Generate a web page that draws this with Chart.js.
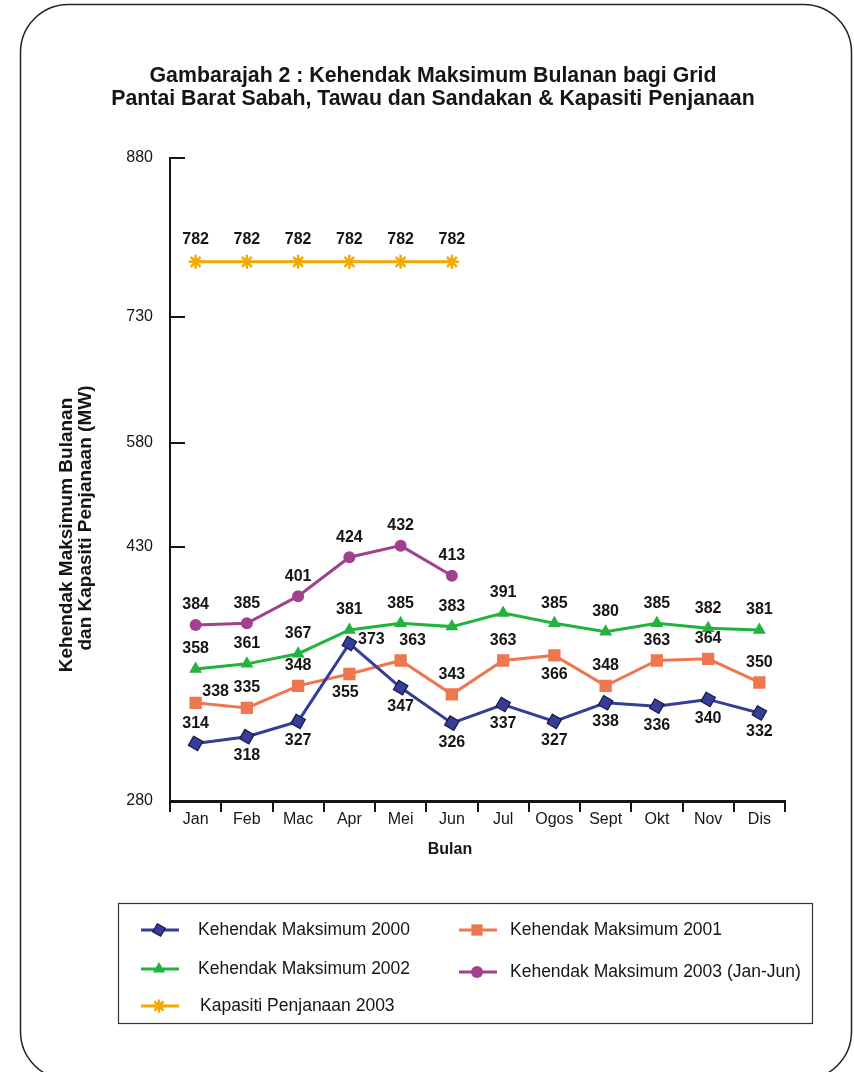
<!DOCTYPE html>
<html>
<head>
<meta charset="utf-8">
<title>Kehendak Maksimum Bulanan</title>
<script src="https://cdn.jsdelivr.net/npm/chart.js@4/dist/chart.umd.min.js"></script>
<style>
  html, body { margin: 0; padding: 0; background: #ffffff; }
  canvas { display: block; }
</style>
</head>
<body>
<canvas id="chart" width="854" height="1072"></canvas>
<script>
// ---- data ----
const months = ['Jan', 'Feb', 'Mac', 'Apr', 'Mei', 'Jun', 'Jul', 'Ogos', 'Sept', 'Okt', 'Nov', 'Dis'];
const demand2000 = [314, 318, 327, 373, 347, 326, 337, 327, 338, 336, 340, 332];
const demand2001 = [338, 335, 348, 355, 363, 343, 363, 366, 348, 363, 364, 350];
const demand2002 = [358, 361, 367, 381, 385, 383, 391, 385, 380, 385, 382, 381];
const demand2003 = [384, 385, 401, 424, 432, 413];
const capacity2003 = [782, 782, 782, 782, 782, 782];
const yTickValues = [280, 430, 580, 730, 880];

const seriesNames = [
  'Kehendak Maksimum 2000',
  'Kehendak Maksimum 2001',
  'Kehendak Maksimum 2002',
  'Kehendak Maksimum 2003 (Jan-Jun)',
  'Kapasiti Penjanaan 2003'
];
const titleLines = [
  'Gambarajah 2 : Kehendak Maksimum Bulanan bagi Grid',
  'Pantai Barat Sabah, Tawau dan Sandakan & Kapasiti Penjanaan'
];
const yTitleLines = ['Kehendak Maksimum Bulanan', 'dan Kapasiti Penjanaan (MW)'];
const xTitleText = 'Bulan';

// ---- layout & style ----
const FONT = '"Liberation Sans", Arial, Helvetica, sans-serif';
const INK = '#151515';

// the value axis is drawn in segments: each tick sits at its own share of the height
const yTickFractions = [0, 0.395, 0.557, 0.753, 1];

// value label placement per point:
// a = above, A = above nudged right, b = below, r = upper right, R = right, L = lower left, c = high above
const labelPlacement = [
  ['a', 'b', 'b', 'R', 'b', 'b', 'b', 'b', 'b', 'b', 'b', 'b'],
  ['r', 'a', 'a', 'L', 'A', 'a', 'a', 'b', 'a', 'a', 'a', 'a'],
  ['a', 'a', 'a', 'a', 'a', 'a', 'a', 'a', 'a', 'a', 'a', 'a'],
  ['a', 'a', 'a', 'a', 'a', 'a'],
  ['c', 'c', 'c', 'c', 'c', 'c']
];
const labelOffset = {
  a: [0, -20], A: [12, -20], b: [0, 19], r: [20, -11], R: [22, -4], L: [-4, 19], c: [0, -22]
};

const seriesStyle = [
  { color: '#343d97', pointStyle: 'rect', rotation: 30, radius: 7.5, legendRadius: 6.5, pointBorder: '#17183f', pointBorderWidth: 1.2 },
  { color: '#ee774f', pointStyle: 'rect', rotation: 0, radius: 8.7, legendRadius: 8, pointBorder: '#ee774f', pointBorderWidth: 0 },
  { color: '#21b33e', pointStyle: 'triangle', rotation: 0, radius: 7.5, legendRadius: 7, pointBorder: '#21b33e', pointBorderWidth: 0 },
  { color: '#a0408f', pointStyle: 'circle', rotation: 0, radius: 6, legendRadius: 6, pointBorder: '#a0408f', pointBorderWidth: 0 },
  { color: '#f2a900', pointStyle: 'star', rotation: 0, radius: 7, legendRadius: 6.5, pointBorder: '#f2a900', pointBorderWidth: 2.5 }
];

const legendBox = { x: 118, y: 903, w: 694, h: 120 };
const legendSlots = [
  { x: 141, y: 930, tx: 198 },
  { x: 459, y: 930, tx: 510 },
  { x: 141, y: 969, tx: 198 },
  { x: 459, y: 972, tx: 510 },
  { x: 141, y: 1006, tx: 200 }
];

// ---- value axis made of linear segments between the listed ticks ----
const LinearBase = Chart.LinearScale || Chart.registry.getScale('linear');
class SegmentedScale extends LinearBase {
  static id = 'segmented';
  valueToDecimal(v) {
    const vs = yTickValues, fs = yTickFractions;
    let i = 1;
    while (i < vs.length - 1 && v > vs[i]) i++;
    return fs[i - 1] + (v - vs[i - 1]) / (vs[i] - vs[i - 1]) * (fs[i] - fs[i - 1]);
  }
  decimalToValue(d) {
    const vs = yTickValues, fs = yTickFractions;
    let i = 1;
    while (i < fs.length - 1 && d > fs[i]) i++;
    return vs[i - 1] + (d - fs[i - 1]) / (fs[i] - fs[i - 1]) * (vs[i] - vs[i - 1]);
  }
  getPixelForValue(value) {
    if (value === null || value === undefined || isNaN(value)) return NaN;
    return this.getPixelForDecimal(this.valueToDecimal(value));
  }
  getValueForPixel(pixel) {
    return this.decimalToValue(this.getDecimalForPixel(pixel));
  }
}
Chart.register(SegmentedScale);

// ---- plugins ----
const framePlugin = {
  id: 'frame',
  beforeDraw(chart) {
    const ctx = chart.ctx;
    ctx.save();
    ctx.fillStyle = '#ffffff';
    ctx.fillRect(0, 0, chart.width, chart.height);
    ctx.strokeStyle = '#222222';
    ctx.lineWidth = 1.5;
    ctx.beginPath();
    ctx.roundRect(20.5, 4.5, 831, 1075, 48);
    ctx.stroke();
    ctx.restore();
  }
};

const valueLabelPlugin = {
  id: 'valueLabels',
  afterDatasetsDraw(chart) {
    const ctx = chart.ctx;
    ctx.save();
    ctx.font = 'bold 16px ' + FONT;
    ctx.fillStyle = INK;
    ctx.textAlign = 'center';
    ctx.textBaseline = 'middle';
    chart.data.datasets.forEach((ds, di) => {
      const meta = chart.getDatasetMeta(di);
      meta.data.forEach((pt, i) => {
        const v = ds.data[i];
        if (v === null || v === undefined) return;
        const off = labelOffset[labelPlacement[di][i]];
        ctx.fillText(String(v), pt.x + off[0], pt.y + off[1]);
      });
    });
    ctx.restore();
  }
};

const axisTitlePlugin = {
  id: 'axisTitles',
  afterDraw(chart) {
    const ctx = chart.ctx;
    ctx.save();
    ctx.fillStyle = INK;
    ctx.textAlign = 'center';
    ctx.textBaseline = 'middle';
    ctx.font = 'bold 19px ' + FONT;
    const yCenters = [[67, 535], [86, 518]];
    yTitleLines.forEach((t, i) => {
      ctx.save();
      ctx.translate(yCenters[i][0], yCenters[i][1]);
      ctx.rotate(-Math.PI / 2);
      ctx.fillText(t, 0, 0);
      ctx.restore();
    });
    ctx.font = 'bold 16px ' + FONT;
    ctx.fillText(xTitleText, 450, 850);
    ctx.restore();
  }
};

const boxLegendPlugin = {
  id: 'boxLegend',
  afterDraw(chart) {
    const ctx = chart.ctx;
    ctx.save();
    ctx.strokeStyle = '#333333';
    ctx.lineWidth = 1.2;
    ctx.strokeRect(legendBox.x + 0.5, legendBox.y + 0.5, legendBox.w, legendBox.h);
    ctx.font = '17.5px ' + FONT;
    ctx.textBaseline = 'middle';
    ctx.textAlign = 'left';
    chart.data.datasets.forEach((ds, i) => {
      const s = seriesStyle[i];
      const slot = legendSlots[i];
      ctx.strokeStyle = s.color;
      ctx.lineWidth = 3;
      ctx.beginPath();
      ctx.moveTo(slot.x, slot.y);
      ctx.lineTo(slot.x + 38, slot.y);
      ctx.stroke();
      ctx.fillStyle = s.color;
      ctx.strokeStyle = s.pointBorder;
      ctx.lineWidth = s.pointBorderWidth;
      Chart.helpers.drawPoint(ctx, {
        pointStyle: s.pointStyle,
        rotation: s.rotation,
        radius: s.legendRadius,
        borderWidth: s.pointBorderWidth
      }, slot.x + 18, slot.y);
      ctx.fillStyle = INK;
      ctx.fillText(ds.label, slot.tx, slot.y);
    });
    ctx.restore();
  }
};

// ---- chart ----
const seriesValues = [demand2000, demand2001, demand2002, demand2003, capacity2003];

Chart.defaults.font.family = FONT;
Chart.defaults.color = INK;

new Chart(document.getElementById('chart'), {
  type: 'line',
  data: {
    labels: months,
    datasets: seriesValues.map((vals, i) => {
      const s = seriesStyle[i];
      return {
        label: seriesNames[i],
        data: vals,
        borderColor: s.color,
        backgroundColor: s.color,
        borderWidth: 3,
        tension: 0,
        fill: false,
        pointStyle: s.pointStyle,
        pointRotation: s.rotation,
        pointRadius: s.radius,
        pointHoverRadius: s.radius,
        pointBackgroundColor: s.color,
        pointBorderColor: s.pointBorder,
        pointBorderWidth: s.pointBorderWidth
      };
    })
  },
  options: {
    responsive: false,
    animation: false,
    events: [],
    layout: { padding: { left: 81, right: 69, top: 0, bottom: 0 } },
    plugins: {
      legend: { display: false },
      tooltip: { enabled: false },
      title: {
        display: true,
        text: titleLines,
        color: INK,
        font: { family: FONT, size: 21.3, weight: 'bold', lineHeight: 1.1 },
        padding: { top: 64.3, bottom: 46.9 }
      }
    },
    scales: {
      x: {
        type: 'category',
        offset: true,
        grid: { offset: true, drawOnChartArea: false, drawTicks: true, tickLength: 11, color: INK, lineWidth: 2 },
        border: { display: true, color: INK, width: 3 },
        ticks: { color: INK, font: { family: FONT, size: 16, lineHeight: 1 }, padding: 0, maxRotation: 0, autoSkip: false },
        afterFit(scale) { scale.height = 271; }
      },
      y: {
        type: 'segmented',
        min: 280,
        max: 880,
        afterBuildTicks(scale) { scale.ticks = yTickValues.map(v => ({ value: v })); },
        grid: { drawOnChartArea: false, drawTicks: true, tickLength: -15, color: INK, lineWidth: 2 },
        border: { display: true, color: INK, width: 2 },
        ticks: { color: INK, font: { family: FONT, size: 16 }, padding: 32, callback: v => String(v) },
        afterFit(scale) { scale.width = 89; }
      }
    }
  },
  plugins: [framePlugin, valueLabelPlugin, axisTitlePlugin, boxLegendPlugin]
});
</script>
</body>
</html>
